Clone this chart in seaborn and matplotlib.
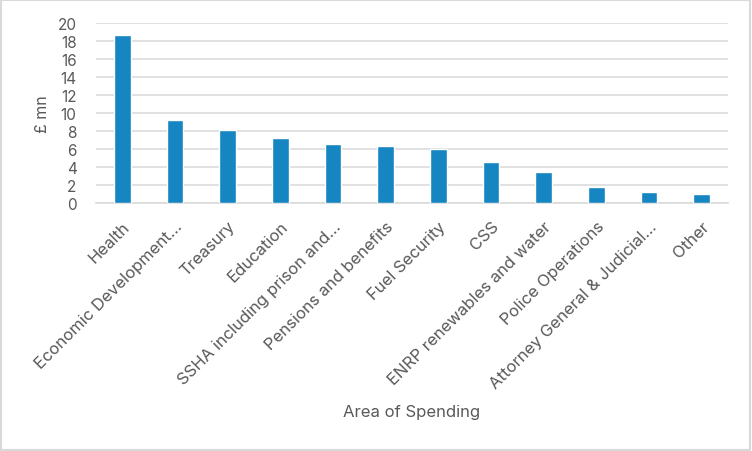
import matplotlib
matplotlib.use("Agg")
import matplotlib.pyplot as plt
import seaborn as sns
import pandas as pd
from matplotlib.patches import Rectangle

categories = ["Health", "Economic Development…", "Treasury", "Education",
              "SSHA including prison and…", "Pensions and benefits", "Fuel Security",
              "CSS", "ENRP renewables and water", "Police Operations",
              "Attorney General & Judicial…", "Other"]
values = [18.65, 9.2, 8.1, 7.2, 6.55, 6.3, 5.97, 4.53, 3.42, 1.75, 1.2, 0.97]
yticks = list(range(0, 21, 2))

sns.set_theme(style="white")
plt.rcParams['font.family'] = ['Inter', 'DejaVu Sans']

df = pd.DataFrame({"Area": categories, "Value": values})

fig = plt.figure(figsize=(7.52, 4.52), dpi=100)
ax = fig.add_axes([96/752, 1-204/452, 632/752, 180/452])
sns.barplot(data=df, x="Area", y="Value", color="#1586C1", saturation=1,
            width=0.32, ax=ax, zorder=3)
ax.set_ylim(0, 20)
ax.set_xlim(-0.5, len(categories)-0.5)
ax.set_yticks(yticks)
ax.set_yticklabels([str(t) for t in yticks], fontsize=11, color="#595959")
ax.yaxis.grid(True, color="#D9D9D9", linewidth=1.1, zorder=0)
ax.xaxis.grid(False)
for s in ["top", "right", "left"]:
    ax.spines[s].set_visible(False)
ax.spines["bottom"].set_color("#D9D9D9")
ax.spines["bottom"].set_linewidth(1.1)
ax.tick_params(axis="both", length=0)
ax.tick_params(axis="y", pad=14)
ax.tick_params(axis="x", pad=11)
ax.set_xticks(range(len(categories)))
ax.set_xticklabels(categories, rotation=45, ha="right", rotation_mode="anchor",
                   fontsize=12, color="#595959")
ax.set_ylabel("£ mn", fontsize=11.5, color="#595959")
ax.yaxis.set_label_coords(-0.072, 0.5)
ax.set_xlabel("")
fig.text(412/752, 1-413/452, "Area of Spending", ha="center", va="center",
         fontsize=12, color="#595959")
fig.patches.append(Rectangle((0.001, 0.002), 0.997, 0.996, transform=fig.transFigure,
                             fill=False, edgecolor="#D9D9D9", linewidth=1.5))
fig.savefig("out.png", dpi=100, facecolor="white")
